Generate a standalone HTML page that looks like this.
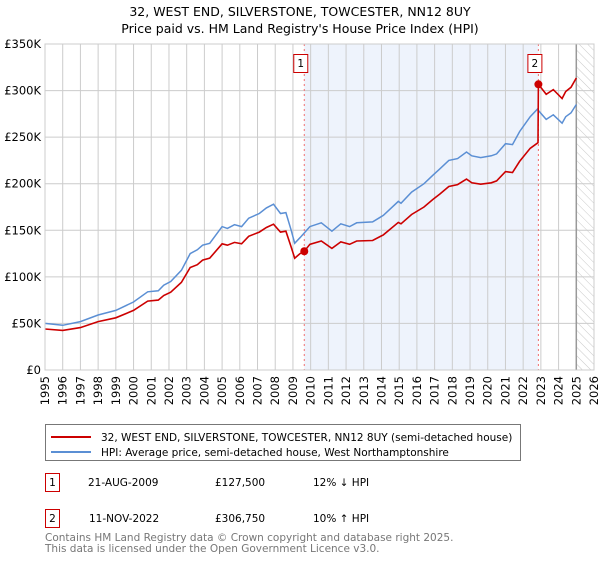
<!DOCTYPE html>
<html><head><meta charset="utf-8"><style>
body{margin:0;background:#fff;font-family:"DejaVu Sans","Liberation Sans",sans-serif;}
svg text{font-family:"DejaVu Sans","Liberation Sans",sans-serif;}
</style></head><body>
<svg id="chart" width="600" height="560" viewBox="0 0 600 560" xmlns="http://www.w3.org/2000/svg">
<defs>
<pattern id="hatch" patternUnits="userSpaceOnUse" width="6" height="6" patternTransform="rotate(-45)">
<line x1="0" y1="0" x2="0" y2="6" stroke="#bbb" stroke-width="0.8"/>
</pattern>
</defs>
<text x="300" y="16" text-anchor="middle" font-size="12.5">32, WEST END, SILVERSTONE, TOWCESTER, NN12 8UY</text>
<text x="300" y="33" text-anchor="middle" font-size="12.5">Price paid vs. HM Land Registry's House Price Index (HPI)</text>
<g id="plot"></g>
<g>
<rect x="45.5" y="424.5" width="475" height="36" fill="#fff" stroke="#777"/>
<line x1="51" y1="437" x2="91" y2="437" stroke="#cc0000" stroke-width="2"/>
<text x="101" y="441" font-size="10.5">32, WEST END, SILVERSTONE, TOWCESTER, NN12 8UY (semi-detached house)</text>
<line x1="51" y1="452" x2="91" y2="452" stroke="#5b8fd4" stroke-width="2"/>
<text x="101" y="456" font-size="10.5">HPI: Average price, semi-detached house, West Northamptonshire</text>
</g>
<g font-size="10.5">
<rect x="45.5" y="473.5" width="14" height="18" fill="#fff" stroke="#cc0000"/>
<text x="52.5" y="486" text-anchor="middle">1</text>
<text x="88" y="486">21-AUG-2009</text>
<text x="215" y="486">£127,500</text>
<text x="313" y="486">12% ↓ HPI</text>
<rect x="45.5" y="509.5" width="14" height="18" fill="#fff" stroke="#cc0000"/>
<text x="52.5" y="522" text-anchor="middle">2</text>
<text x="89" y="522">11-NOV-2022</text>
<text x="215" y="522">£306,750</text>
<text x="313" y="522">10% ↑ HPI</text>
</g>
<text x="45" y="541" font-size="10.5" fill="#777">Contains HM Land Registry data © Crown copyright and database right 2025.</text>
<text x="45" y="552" font-size="10.5" fill="#777">This data is licensed under the Open Government Licence v3.0.</text>
</svg>
<script>
const yTicks=[0,50,100,150,200,250,300,350];
const yTickLabels=["£0","£50K","£100K","£150K","£200K","£250K","£300K","£350K"];
const xTicks=[1995,1996,1997,1998,1999,2000,2001,2002,2003,2004,2005,2006,2007,2008,2009,2010,2011,2012,2013,2014,2015,2016,2017,2018,2019,2020,2021,2022,2023,2024,2025,2026];
const hpiYears=[1995.0,1996,1997,1998,1999,2000,2000.8,2001.4,2001.7,2002.1,2002.7,2003.2,2003.6,2003.9,2004.3,2005.0,2005.3,2005.7,2006.1,2006.5,2007.1,2007.5,2007.9,2008.3,2008.6,2008.9,2009.1,2009.4,2009.96,2010.6,2011.2,2011.7,2012.2,2012.6,2013.5,2014.1,2014.95,2015.1,2015.7,2016.4,2016.9,2017.3,2017.8,2018.3,2018.8,2019.1,2019.6,2020.2,2020.5,2021.0,2021.4,2021.8,2022.4,2022.8,2023.3,2023.7,2024.2,2024.4,2024.7,2025.0];
const hpiValues=[50,48,52,59,64,73,84,85,91,95,107,125,129,134,136,154,152,156,154,163,168,174,178,168,169,150,136,142,154,158,149,157,154,158,159,166,181,179,191,200,209,216,225,227,234,230,228,230,232,243,242,256,272,280,269,274,265,272,276,285];
const paidYears=[1995.0,1996,1997,1998,1999,2000,2000.8,2001.4,2001.7,2002.1,2002.7,2003.2,2003.6,2003.9,2004.3,2005.0,2005.3,2005.7,2006.1,2006.5,2007.1,2007.5,2007.9,2008.3,2008.6,2008.9,2009.1,2009.4,2009.64,2009.96,2010.6,2011.2,2011.7,2012.2,2012.6,2013.5,2014.1,2014.95,2015.1,2015.7,2016.4,2016.9,2017.3,2017.8,2018.3,2018.8,2019.1,2019.6,2020.2,2020.5,2021.0,2021.4,2021.8,2022.4,2022.84,2022.86,2023.3,2023.7,2024.2,2024.4,2024.7,2025.0];
const paidValues=[44,42.5,45.5,52,56,64,74,75,80,83.5,94,110,113,118,120,135.5,134,137,135.5,143.5,148,153,156.5,148,149,132,120,125,127.5,135,138.5,130.5,137.5,135,138.5,139,145,158.5,157,167,175,183,189,197,199,205,201,199.5,201,203,213,212,224,238,244,306.75,296,301,291.5,299,303.5,313.5];
const saleLabels=["1","2"];
const saleYears=[2009.64,2022.86];
const salePrices=[127.5,306.75];

const X0=45,X1=594,Y0=370,Y1=44;
const xs=y=>X0+(y-1995)/(2026-1995)*(X1-X0);
const ys=v=>Y0-v/350*(Y0-Y1);
const NS="http://www.w3.org/2000/svg";
const plot=document.getElementById('plot');
function mk(tag,attrs,parent){const e=document.createElementNS(NS,tag);for(const k in attrs)e.setAttribute(k,attrs[k]);(parent||plot).appendChild(e);return e;}

let r=mk('rect',{x:xs(saleYears[0]),y:Y1,width:xs(saleYears[1])-xs(saleYears[0]),height:Y0-Y1,fill:'#eef3fc'});


let h=mk('rect',{x:xs(2025),y:Y1,width:X1-xs(2025),height:Y0-Y1,fill:'url(#hatch)'});



xTicks.forEach(t=>{
  let g=mk('line',{x1:xs(t),x2:xs(t),y1:Y1,y2:Y0,stroke:'#ccc','stroke-width':1});
  
  
  let tx=mk('text',{x:0,y:0,'font-size':11.5,'text-anchor':'end',transform:`translate(${xs(t)+4},${Y0+6}) rotate(-90)`});
  tx.textContent=t;
  
  
});
yTicks.forEach((t,i)=>{
  let g=mk('line',{x1:X0,x2:X1,y1:ys(t),y2:ys(t),stroke:'#ccc','stroke-width':1});
  
  
  let tx=mk('text',{x:X0-4,y:ys(t)+4,'font-size':11.5,'text-anchor':'end'});
  tx.textContent=yTickLabels[i];
  
  
});
let vl=mk('line',{x1:xs(2025),x2:xs(2025),y1:Y1,y2:Y0,stroke:'#999','stroke-width':1.5});



saleYears.forEach((s,i)=>{
  let l=mk('line',{x1:xs(s),x2:xs(s),y1:Y1,y2:Y0,stroke:'#f07070','stroke-dasharray':'2,3','stroke-width':1});
  
  
});

function path(xa,va){return xa.map((x,i)=>(i?'L':'M')+xs(x).toFixed(1)+','+ys(va[i]).toFixed(1)).join('');}
let hp=mk('path',{d:path(hpiYears,hpiValues),fill:'none',stroke:'#5b8fd4','stroke-width':1.5});


let pp=mk('path',{d:path(paidYears,paidValues),fill:'none',stroke:'#cc0000','stroke-width':1.6});



saleYears.forEach((s,i)=>{
  let c=mk('circle',{cx:xs(s),cy:ys(salePrices[i]),r:4,fill:'#cc0000'});
  
  
  let b=mk('rect',{x:xs(s)-10.5,y:54.5,width:14,height:18,fill:'#fff',stroke:'#cc0000'});
  
  
  let t=mk('text',{x:xs(s)-3.5,y:67,'font-size':10.5,'text-anchor':'middle'});
  t.textContent=saleLabels[i];
  
  
});
let ax=mk('rect',{x:X0,y:Y1,width:X1-X0,height:Y0-Y1,fill:'none',stroke:'#ccc'});


</script>
</body></html>
